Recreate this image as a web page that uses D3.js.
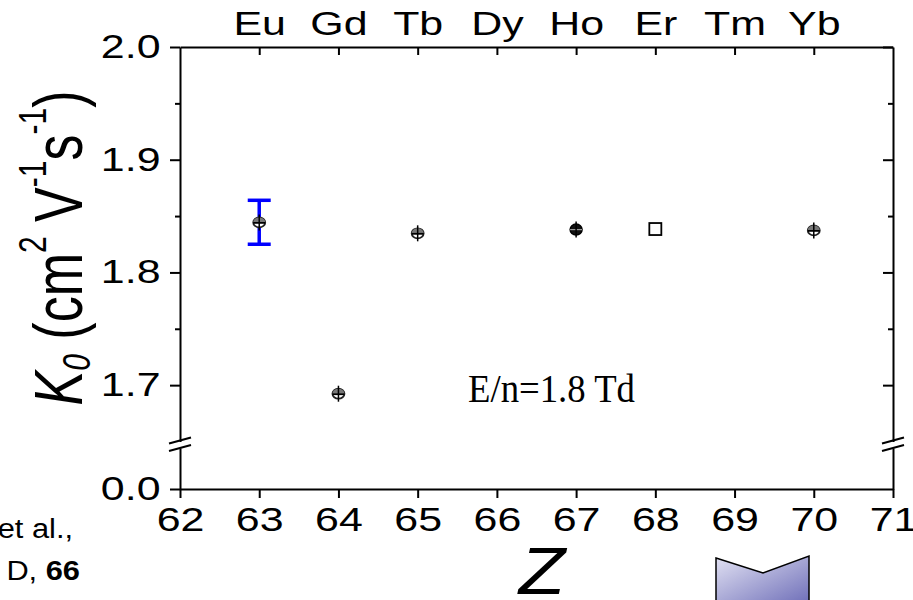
<!DOCTYPE html>
<html>
<head>
<meta charset="utf-8">
<script src="https://cdn.jsdelivr.net/npm/d3@7"></script>
<style>
  body { margin: 0; background: #fff; }
  svg { display: block; font-family: "Liberation Sans", Arial, sans-serif; }
</style>
</head>
<body>
<svg id="chart" width="913" height="600"></svg>
<script>
// data
const zValues = [63, 64, 65, 67, 68, 70];
const k0Values = [1.8444, 1.6924, 1.8347, 1.8380, 1.8385, 1.8373];
const k0Err = [0.003, 0.003, 0.003, 0.003, 0.004, 0.003];
const markerKind = ['half', 'half', 'half', 'cross', 'square', 'half'];
const euErrLow = 1.8250;
const euErrHigh = 1.8640;
const elementZ = [63, 64, 65, 66, 67, 68, 69, 70];
const elementNames = ['Eu', 'Gd', 'Tb', 'Dy', 'Ho', 'Er', 'Tm', 'Yb'];
const xTicks = [62, 63, 64, 65, 66, 67, 68, 69, 70, 71];
const yMajor = [1.7, 1.8, 1.9, 2.0];
const yMinor = [1.75, 1.85, 1.95];
const yLowTicks = [0.0];

const svg = d3.select('#chart');
const stretch = 1.3;

const x = d3.scaleLinear().domain([62, 71]).range([180, 893]);
const yUp = d3.scaleLinear().domain([1.65, 2.0]).range([441.5, 47]);
const yLow = d3.scaleLinear().domain([0, 0.04]).range([489, 448]);

function styleAxis(g) {
    g.selectAll('path').attr('stroke', '#000').attr('stroke-width', 2);
    g.selectAll('line').attr('stroke', '#000').attr('stroke-width', 2);
    g.selectAll('text').attr('fill', '#000').attr('font-size', 33)
        .attr('font-family', '"Liberation Sans", Arial, sans-serif');
}

// bottom axis
const gBottom = svg.append('g').attr('transform', 'translate(0,489)')
    .call(d3.axisBottom(x).tickValues(xTicks).tickSize(9).tickSizeOuter(0)
        .tickPadding(10).tickFormat(d3.format('d')))
    .call(styleAxis);
gBottom.selectAll('text').attr('transform', `scale(${stretch},1)`);

// top axis: inward ticks + element names
svg.append('g').attr('transform', 'translate(0,47)')
    .call(d3.axisBottom(x).tickValues(elementZ).tickSize(8).tickSizeOuter(0).tickFormat(''))
    .call(styleAxis);
const gTopLab = svg.append('g').attr('transform', 'translate(0,47)')
    .call(d3.axisTop(x).tickValues(elementZ).tickSize(0).tickPadding(12)
        .tickFormat((d, i) => elementNames[i]))
    .call(styleAxis);
gTopLab.select('path').remove();
gTopLab.selectAll('text').attr('transform', `scale(${stretch},1)`);

// left axis, upper part
const gLeft = svg.append('g').attr('transform', 'translate(180,0)')
    .call(d3.axisLeft(yUp).tickValues(yMajor).tickSize(10).tickSizeOuter(0)
        .tickPadding(5).tickFormat(d3.format('.1f')))
    .call(styleAxis);
gLeft.selectAll('text').attr('transform', `scale(${stretch},1)`);
svg.append('g').attr('transform', 'translate(180,0)')
    .call(d3.axisLeft(yUp).tickValues(yMinor).tickSize(5).tickSizeOuter(0).tickFormat(''))
    .call(styleAxis).select('path').remove();

// left axis, lower part
const gLeftLow = svg.append('g').attr('transform', 'translate(180,0)')
    .call(d3.axisLeft(yLow).tickValues(yLowTicks).tickSize(10).tickSizeOuter(0)
        .tickPadding(5).tickFormat(d3.format('.1f')))
    .call(styleAxis);
gLeftLow.selectAll('text').attr('transform', `scale(${stretch},1)`);

// right axis (inward ticks)
svg.append('g').attr('transform', 'translate(893,0)')
    .call(d3.axisLeft(yUp).tickValues(yMajor).tickSize(10).tickSizeOuter(0).tickFormat(''))
    .call(styleAxis);
svg.append('g').attr('transform', 'translate(893,0)')
    .call(d3.axisLeft(yUp).tickValues(yMinor).tickSize(5).tickSizeOuter(0).tickFormat(''))
    .call(styleAxis).select('path').remove();
svg.append('g').attr('transform', 'translate(893,0)')
    .call(d3.axisLeft(yLow).tickValues([]).tickSizeOuter(0))
    .call(styleAxis);

// axis break marks
[180, 893].forEach(ax => {
    [yUp(1.65) - 1, yLow(0.04)].forEach(yy => {
        svg.append('line')
            .attr('x1', ax - 11).attr('y1', yy + 3)
            .attr('x2', ax + 11).attr('y2', yy - 3)
            .attr('stroke', '#000').attr('stroke-width', 2);
    });
});

// Eu error bar (blue)
const euX = x(63);
const blue = svg.append('g').attr('stroke', '#0000ff').attr('stroke-width', 3.5);
blue.append('line').attr('x1', euX).attr('x2', euX).attr('y1', yUp(euErrHigh)).attr('y2', yUp(euErrLow));
blue.append('line').attr('x1', euX - 11.5).attr('x2', euX + 11.5).attr('y1', yUp(euErrHigh)).attr('y2', yUp(euErrHigh));
blue.append('line').attr('x1', euX - 11.5).attr('x2', euX + 11.5).attr('y1', yUp(euErrLow)).attr('y2', yUp(euErrLow));

// data markers
const pts = zValues.map((z, i) => ({ z: z, v: k0Values[i], e: k0Err[i], kind: markerKind[i] }));
const mk = svg.append('g').selectAll('g').data(pts).enter().append('g')
    .attr('transform', d => `translate(${x(d.z)},${yUp(d.v)})`);

mk.append('line')
    .attr('x1', 0).attr('x2', 0)
    .attr('y1', d => yUp(d.v + d.e) - yUp(d.v))
    .attr('y2', d => yUp(d.v - d.e) - yUp(d.v))
    .attr('stroke', '#000').attr('stroke-width', 1.5);

mk.filter(d => d.kind === 'half').each(function () {
    const g = d3.select(this);
    g.append('ellipse').attr('rx', 6).attr('ry', 5).attr('fill', '#fff')
        .attr('stroke', '#222').attr('stroke-width', 1.8);
    g.append('path').attr('d', 'M-6,0 A6,5 0 0,1 6,0 Z').attr('fill', '#777');
    g.append('line').attr('x1', -6).attr('x2', 6).attr('y1', 0.5).attr('y2', 0.5)
        .attr('stroke', '#000').attr('stroke-width', 1.8);
    g.append('line').attr('x1', 0).attr('x2', 0).attr('y1', -8).attr('y2', 8)
        .attr('stroke', '#000').attr('stroke-width', 1.5);
});

mk.filter(d => d.kind === 'cross').each(function () {
    const g = d3.select(this);
    g.append('ellipse').attr('rx', 6).attr('ry', 5.5).attr('fill', '#111')
        .attr('stroke', '#000').attr('stroke-width', 1.5);
    g.append('line').attr('x1', -6).attr('x2', 6).attr('y1', 0).attr('y2', 0)
        .attr('stroke', '#999').attr('stroke-width', 1.2);
    g.append('line').attr('x1', 0).attr('x2', 0).attr('y1', -8).attr('y2', 8)
        .attr('stroke', '#000').attr('stroke-width', 1.5);
});

mk.filter(d => d.kind === 'square').append('rect')
    .attr('x', -6).attr('y', -6).attr('width', 12).attr('height', 12)
    .attr('fill', '#fff').attr('stroke', '#000').attr('stroke-width', 1.8);

// annotation
svg.append('text').attr('x', 468).attr('y', 402)
    .attr('font-family', '"Liberation Serif", "Times New Roman", serif')
    .attr('font-size', 39).attr('textLength', 167).attr('lengthAdjust', 'spacingAndGlyphs')
    .text('E/n=1.8 Td');

// y title
const yt = svg.append('text')
    .attr('transform', `translate(82,248) scale(${stretch},1) rotate(-90)`)
    .attr('text-anchor', 'middle').attr('font-size', 52).attr('fill', '#000');
yt.append('tspan').attr('font-style', 'italic').text('K');
yt.append('tspan').attr('font-style', 'italic').attr('font-size', 30).attr('dy', 6).text('0');
yt.append('tspan').attr('dy', -6).text(' (cm');
yt.append('tspan').attr('font-size', 30).attr('dy', -28).text('2');
yt.append('tspan').attr('dy', 28).text(' V');
yt.append('tspan').attr('font-size', 30).attr('dy', -28).text('-1');
yt.append('tspan').attr('dy', 28).text('s');
yt.append('tspan').attr('font-size', 30).attr('dy', -28).text('-1');
yt.append('tspan').attr('dy', 28).text(')');

// x title
svg.append('text').attr('transform', 'translate(542,594) scale(1.15,1)')
    .attr('text-anchor', 'middle').attr('font-size', 66).attr('font-style', 'italic')
    .text('Z');

// citation fragment at left edge
svg.append('text').attr('transform', 'translate(73,538) scale(1.1,1)')
    .attr('text-anchor', 'end').attr('font-size', 28).text('et al.,');
const cit = svg.append('text').attr('transform', 'translate(80,580) scale(1.1,1)')
    .attr('text-anchor', 'end').attr('font-size', 28);
cit.append('tspan').text('D, ');
cit.append('tspan').attr('font-weight', 'bold').text('66');

// chevron arrow
const defs = svg.append('defs');
const grad = defs.append('linearGradient').attr('id', 'chev')
    .attr('x1', '0%').attr('y1', '0%').attr('x2', '100%').attr('y2', '100%');
grad.append('stop').attr('offset', '0%').attr('stop-color', '#e2e2f3');
grad.append('stop').attr('offset', '100%').attr('stop-color', '#6e6eb8');
svg.append('path')
    .attr('d', 'M716,558 L763,573 L809,556 L809,604 L716,604 Z')
    .attr('fill', 'url(#chev)').attr('stroke', '#000').attr('stroke-width', 1.5);
</script>
</body>
</html>
